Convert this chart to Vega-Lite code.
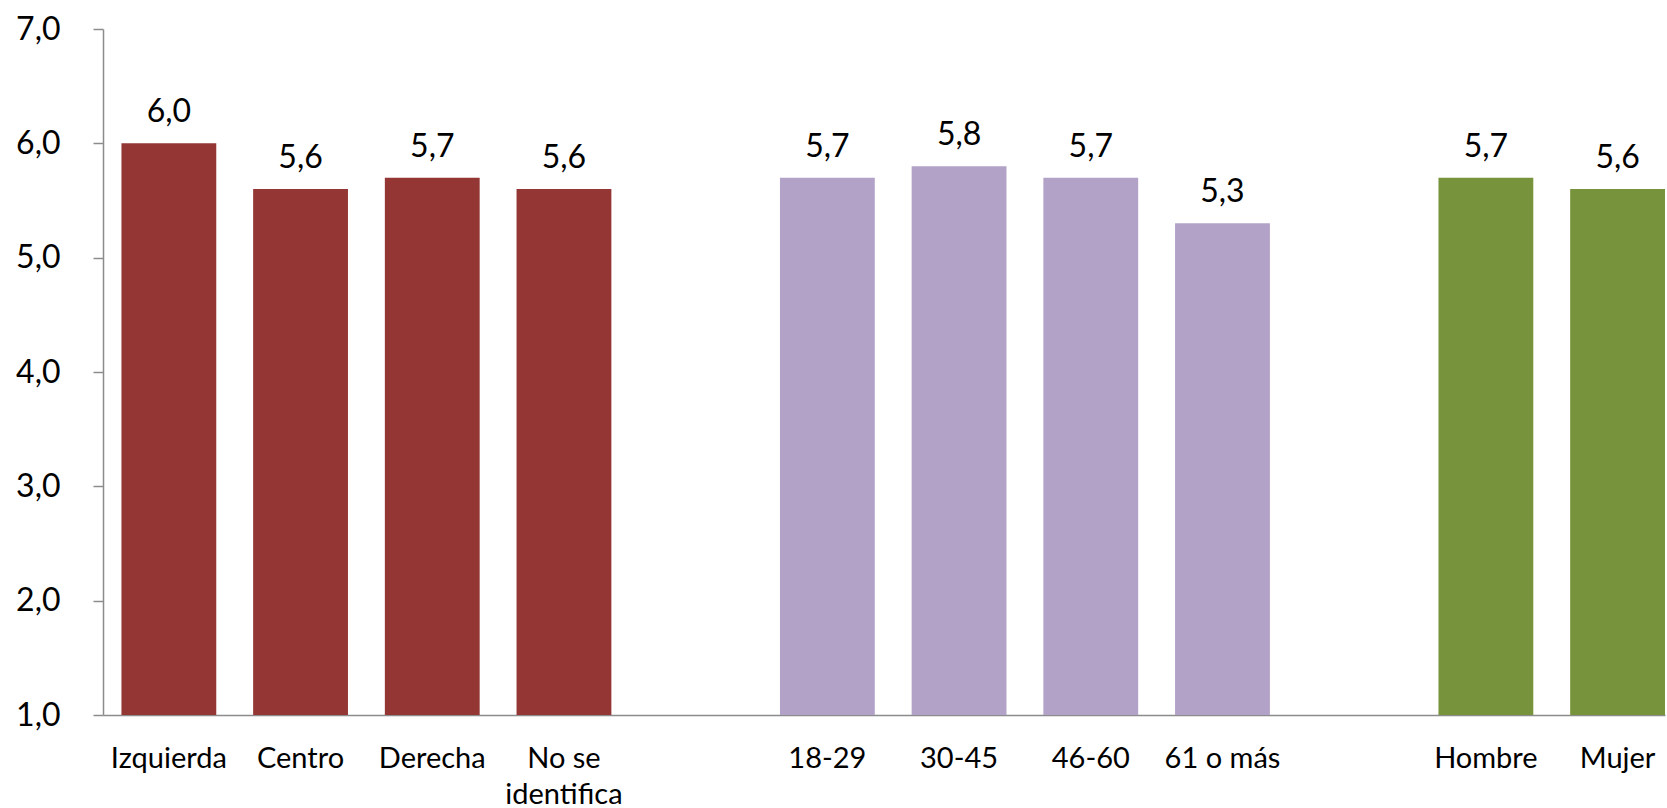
{
  "$schema": "https://vega.github.io/schema/vega-lite/v6.json",
  "width": 1562,
  "height": 686,
  "autosize": {"type": "none"},
  "padding": {"left": 103, "top": 29, "right": 2, "bottom": 93},
  "background": "white",
  "config": {
    "view": {"stroke": null},
    "locale": {"number": {"decimal": ",", "thousands": ".", "grouping": [3], "currency": ["", " €"]}},
    "font": "Lato"
  },
  "data": {
    "values": [
      {"categoria": "Izquierda", "grupo": "Ideología", "valor": 6.0},
      {"categoria": "Centro", "grupo": "Ideología", "valor": 5.6},
      {"categoria": "Derecha", "grupo": "Ideología", "valor": 5.7},
      {"categoria": "No se identifica", "grupo": "Ideología", "valor": 5.6},
      {"categoria": "18-29", "grupo": "Edad", "valor": 5.7},
      {"categoria": "30-45", "grupo": "Edad", "valor": 5.8},
      {"categoria": "46-60", "grupo": "Edad", "valor": 5.7},
      {"categoria": "61 o más", "grupo": "Edad", "valor": 5.3},
      {"categoria": "Hombre", "grupo": "Sexo", "valor": 5.7},
      {"categoria": "Mujer", "grupo": "Sexo", "valor": 5.6}
    ]
  },
  "encoding": {
    "x": {
      "field": "categoria",
      "type": "nominal",
      "sort": null,
      "scale": {
        "domain": ["Izquierda", "Centro", "Derecha", "No se identifica", "gap1", "18-29", "30-45", "46-60", "61 o más", "gap2", "Hombre", "Mujer"],
        "paddingInner": 0.28,
        "paddingOuter": 0.07,
        "align": 1
      },
      "axis": {
        "title": null,
        "labelAngle": 0,
        "ticks": false,
        "tickSize": 0,
        "labelPadding": 29,
        "labelFont": "Lato",
        "labelFontSize": 29,
        "labelColor": "black",
        "labelLineHeight": 36,
        "labelExpr": "datum.value == 'No se identifica' ? ['No se', 'identifica'] : (indexof(datum.value, 'gap') == 0 ? '' : datum.value)",
        "domainColor": "#8C8C8C",
        "domainWidth": 1.5,
        "grid": false
      }
    }
  },
  "layer": [
    {
      "mark": {"type": "bar"},
      "encoding": {
        "y": {
          "field": "valor",
          "type": "quantitative",
          "scale": {"domain": [1, 7], "zero": false, "nice": false},
          "axis": {
            "title": null,
            "values": [1, 2, 3, 4, 5, 6, 7],
            "format": ".1f",
            "grid": false,
            "tickSize": 10,
            "tickColor": "#8C8C8C",
            "tickWidth": 1.5,
            "domainColor": "#8C8C8C",
            "domainWidth": 1.5,
            "labelPadding": 33,
            "labelFont": "Lato",
            "labelFontSize": 32,
            "labelColor": "black"
          }
        },
        "y2": {"datum": 1},
        "color": {
          "field": "grupo",
          "type": "nominal",
          "scale": {"domain": ["Ideología", "Edad", "Sexo"], "range": ["#943634", "#B3A2C7", "#77933C"]},
          "legend": null
        }
      }
    },
    {
      "mark": {"type": "text", "baseline": "alphabetic", "dy": -21, "fontSize": 32, "font": "Lato", "color": "black"},
      "encoding": {
        "y": {"field": "valor", "type": "quantitative"},
        "text": {"field": "valor", "type": "quantitative", "format": ".1f"}
      }
    }
  ]
}
